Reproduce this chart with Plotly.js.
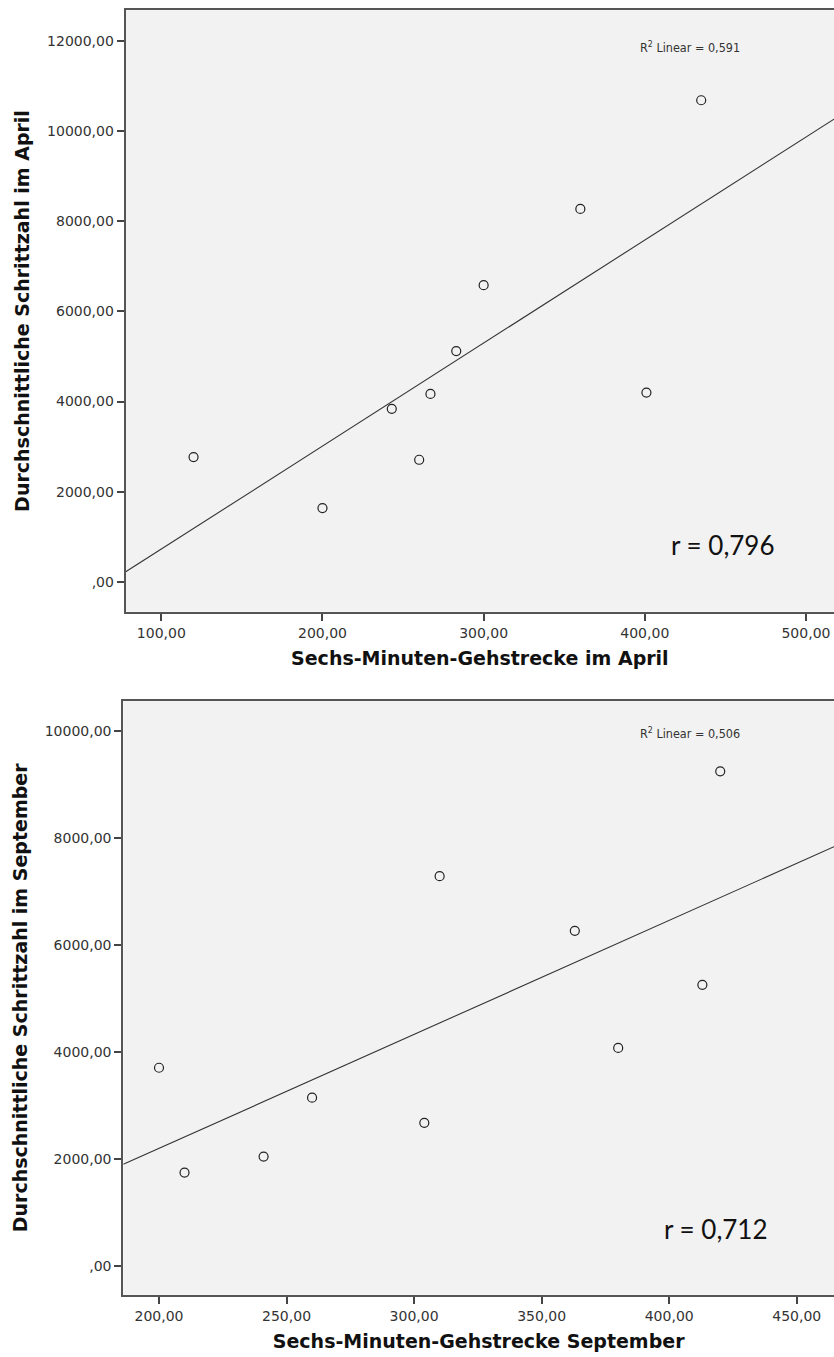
<!DOCTYPE html>
<html>
<head>
<meta charset="utf-8">
<script src="https://cdn.plot.ly/plotly-3.0.1.min.js"></script>
<style>html,body{margin:0;padding:0;background:#fff;}#chart{width:834px;height:1357px;}</style>
</head>
<body>
<div id="chart"></div>
<script>
// ---- Data ----
var aprilWalk  = [120, 200, 243, 260, 267, 283, 300, 360, 401, 435];
var aprilSteps = [2770, 1640, 3840, 2710, 4170, 5120, 6580, 8270, 4200, 10680];
var septWalk   = [200, 210, 241, 260, 304, 310, 363, 380, 413, 420];
var septSteps  = [3700, 1740, 2040, 3140, 2670, 7280, 6260, 4070, 5250, 9240];

var aprilXTicks = [100, 200, 300, 400, 500];
var aprilXText  = ["100,00", "200,00", "300,00", "400,00", "500,00"];
var aprilYTicks = [0, 2000, 4000, 6000, 8000, 10000, 12000];
var aprilYText  = [",00", "2000,00", "4000,00", "6000,00", "8000,00", "10000,00", "12000,00"];
var septXTicks  = [200, 250, 300, 350, 400, 450];
var septXText   = ["200,00", "250,00", "300,00", "350,00", "400,00", "450,00"];
var septYTicks  = [0, 2000, 4000, 6000, 8000, 10000];
var septYText   = [",00", "2000,00", "4000,00", "6000,00", "8000,00", "10000,00"];

var aprilR2 = "0,591", aprilR = "0,796";
var septR2 = "0,506",  septR = "0,712";

// ---- Layout constants ----
var aprilXRange = [77.9, 517.4], aprilYRange = [-658, 12674];
var septXRange  = [186.0, 464.6], septYRange = [-542, 10555];

function fit(x, y) {
  var n = x.length, mx = 0, my = 0;
  for (var i = 0; i < n; i++) { mx += x[i]; my += y[i]; }
  mx /= n; my /= n;
  var sxy = 0, sxx = 0;
  for (var i = 0; i < n; i++) { sxy += (x[i]-mx)*(y[i]-my); sxx += (x[i]-mx)*(x[i]-mx); }
  var b = sxy / sxx; return {a: my - b*mx, b: b};
}
var fa = fit(aprilWalk, aprilSteps), fs = fit(septWalk, septSteps);

var markerStyle = {symbol: 'circle-open', size: 9, color: '#222', line: {width: 1.2, color: '#222'}};
var lineStyle = {color: '#333', width: 1.1};

var traces = [
  {x: [aprilXRange[0], aprilXRange[1]], y: [fa.a + fa.b*aprilXRange[0], fa.a + fa.b*aprilXRange[1]],
   mode: 'lines', line: lineStyle, xaxis: 'x', yaxis: 'y', hoverinfo: 'skip', showlegend: false},
  {x: aprilWalk, y: aprilSteps, mode: 'markers', marker: markerStyle, xaxis: 'x', yaxis: 'y', showlegend: false},
  {x: [septXRange[0], septXRange[1]], y: [fs.a + fs.b*septXRange[0], fs.a + fs.b*septXRange[1]],
   mode: 'lines', line: lineStyle, xaxis: 'x2', yaxis: 'y2', hoverinfo: 'skip', showlegend: false},
  {x: septWalk, y: septSteps, mode: 'markers', marker: markerStyle, xaxis: 'x2', yaxis: 'y2', showlegend: false}
];

var tickFont = {family: 'DejaVu Sans, sans-serif', size: 14, color: '#333'};
var titleFont = {family: 'DejaVu Sans, sans-serif', size: 19, color: '#111', weight: 'bold'};

function xax(domain, range, tv, tt, title, anchor) {
  return {domain: domain, range: range, anchor: anchor, tickmode: 'array', tickvals: tv, ticktext: tt,
    ticks: 'outside', ticklen: 7, tickwidth: 2, tickcolor: '#444', showgrid: false, zeroline: false,
    showline: true, linecolor: '#555', linewidth: 2, mirror: true, tickfont: tickFont,
    title: {text: title, font: titleFont, standoff: 12}, automargin: false, fixedrange: true};
}
function yax(domain, range, tv, tt, title, anchor) {
  return {domain: domain, range: range, anchor: anchor, tickmode: 'array', tickvals: tv, ticktext: tt,
    ticks: 'outside', ticklen: 7, tickwidth: 2, tickcolor: '#444', showgrid: false, zeroline: false,
    showline: true, linecolor: '#555', linewidth: 2, mirror: false, tickfont: tickFont,
    title: {text: title, font: titleFont, standoff: 12}, automargin: false, fixedrange: true};
}

var layout = {
  width: 834, height: 1357,
  margin: {l: 0, r: 0, t: 0, b: 0},
  paper_bgcolor: '#ffffff', plot_bgcolor: '#f2f2f2',
  showlegend: false,
  xaxis:  xax([125.7/834, 1], aprilXRange, aprilXTicks, aprilXText, 'Sechs-Minuten-Gehstrecke im April', 'y'),
  yaxis:  yax([(1357-611.7)/1357, (1357-10.3)/1357], aprilYRange, aprilYTicks, aprilYText, 'Durchschnittliche Schrittzahl im April', 'x'),
  xaxis2: xax([123.3/834, 1], septXRange, septXTicks, septXText, 'Sechs-Minuten-Gehstrecke September', 'y2'),
  yaxis2: yax([(1357-1294.7)/1357, (1357-701)/1357], septYRange, septYTicks, septYText, 'Durchschnittliche Schrittzahl im September', 'x2'),
  annotations: [
    {xref: 'x', yref: 'y', x: 428, y: 11860, text: 'R<sup>2</sup> Linear = ' + aprilR2, showarrow: false,
     font: {family: 'DejaVu Sans Condensed, DejaVu Sans, sans-serif', size: 12.5, color: '#333'}},
    {xref: 'x', yref: 'y', x: 448.4, y: 820, text: 'r = ' + aprilR, showarrow: false,
     font: {family: 'Lato, sans-serif', size: 26, color: '#111'}},
    {xref: 'x2', yref: 'y2', x: 408.2, y: 9957, text: 'R<sup>2</sup> Linear = ' + septR2, showarrow: false,
     font: {family: 'DejaVu Sans Condensed, DejaVu Sans, sans-serif', size: 12.5, color: '#333'}},
    {xref: 'x2', yref: 'y2', x: 418.3, y: 682, text: 'r = ' + septR, showarrow: false,
     font: {family: 'Lato, sans-serif', size: 26, color: '#111'}}
  ]
};

Plotly.newPlot('chart', traces, layout, {staticPlot: true, displayModeBar: false});
</script>
</body>
</html>
